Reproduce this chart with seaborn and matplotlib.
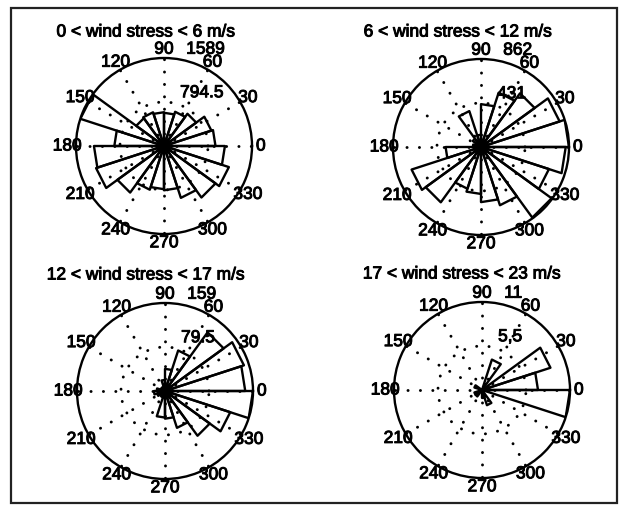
import numpy as np
import pandas as pd
import matplotlib
matplotlib.use("Agg")
import matplotlib.pyplot as plt
import matplotlib.patheffects as pe
import seaborn as sns
from matplotlib.patches import Rectangle

# ---------------- data ----------------
bin_width = 18                                   # degrees per rose bin
bin_centers = list(range(9, 360, 18))            # 9, 27, ..., 351
titles = ["0 < wind stress < 6 m/s", "6 < wind stress < 12 m/s",
          "12 < wind stress < 17 m/s", "17 < wind stress < 23 m/s"]
counts_0_6 = [930, 900, 720, 650, 600, 610, 640, 620, 1589, 897,
              1265, 1290, 1040, 830, 780, 800, 985, 1150, 1232, 1100]
counts_6_12 = [862, 810, 650, 560, 420, 120, 370, 100, 60, 80,
               347, 715, 670, 430, 460, 540, 600, 855, 700, 830]
counts_12_17 = [145, 150, 131, 77, 40, 20, 8, 8, 8, 15,
                20, 15, 10, 12, 48, 50, 70, 100, 124, 159]
counts_17_23 = [7, 9, 0, 4, 0, 0, 0, 0, 1, 0,
                0, 1, 1, 0, 0, 1, 2, 0, 0, 11]
r_max = [1589, 862, 159, 11]
r_max_labels = ["1589", "862", "159", "11"]
r_mid_labels = ["794.5", "431", "79.5", "5,5"]
angle_ticks = list(range(0, 360, 30))

all_counts = [counts_0_6, counts_6_12, counts_12_17, counts_17_23]

# ---------------- style ----------------
sns.set_theme(style="white")
plt.rcParams["font.family"] = ["Liberation Sans", "DejaVu Sans"]
plt.rcParams["lines.dash_capstyle"] = "round"
plt.rcParams["lines.solid_capstyle"] = "round"

W, H = 628, 511
fig = plt.figure(figsize=(W / 100, H / 100), dpi=100)
fig.patch.set_facecolor("white")

R = 88  # circle radius in pixels
centers = [(164, 146), (481, 147), (165, 391), (482, 390)]
title_pos = [(146, 32), (458, 32), (146, 275), (462, 274)]
FS = 12.5
stroke = [pe.withStroke(linewidth=0.7, foreground="black")]

for k in range(4):
    cx, cy = centers[k]
    ax = fig.add_axes([(cx - R) / W, (H - cy - R) / H, 2 * R / W, 2 * R / H],
                      projection="polar")
    ax.set_facecolor("none")
    rm = r_max[k]

    # grid like MATLAB polar
    ax.set_xticks(np.deg2rad(angle_ticks))
    ax.set_xticklabels([])
    ax.set_yticks([rm / 2])
    ax.set_yticklabels([])
    ax.grid(True, color="black", linestyle=(0, (0.05, 4.2)), linewidth=2.1)
    ax.spines["polar"].set_color("black")
    ax.spines["polar"].set_linewidth(1.7)
    ax.tick_params(length=0, pad=0)

    # rose wedges (straight chords, like MATLAB rose)
    rows = []
    for c, v in zip(bin_centers, all_counts[k]):
        t1 = np.deg2rad(c - bin_width / 2)
        t2 = np.deg2rad(c + bin_width / 2)
        rows += [(c, t1, 0.0, 0), (c, t1, v, 1), (c, t2, v, 2), (c, t2, 0.0, 3)]
    df = pd.DataFrame(rows, columns=["bin", "theta", "r", "order"])
    sns.lineplot(data=df, x="theta", y="r", units="bin", estimator=None,
                 sort=False, color="black", linewidth=1.7, ax=ax, legend=False)
    ax.set_xlabel("")
    ax.set_ylabel("")
    ax.set_ylim(0, rm)

    # angle labels at 1.1 rmax
    for a in angle_ticks:
        ax.text(np.deg2rad(a), 1.1 * rm, str(a), ha="center", va="center",
                fontsize=FS, color="black", clip_on=False, path_effects=stroke)
    # radial labels at 82 degrees
    t82 = np.deg2rad(82)
    ax.text(t82, 1.025 * rm, "  " + r_max_labels[k], ha="left", va="bottom",
            fontsize=FS, color="black", clip_on=False, path_effects=stroke)
    ax.text(t82, 0.525 * rm, "  " + r_mid_labels[k], ha="left", va="bottom",
            fontsize=FS, color="black", clip_on=False, path_effects=stroke)

    tx, ty = title_pos[k]
    fig.text(tx / W, 1 - ty / H, titles[k], ha="center", va="center",
             fontsize=FS, color="black", path_effects=stroke)

# outer frame
fig.patches.append(Rectangle((11 / W, 1 - 503 / H), (617 - 11) / W, (503 - 8) / H,
                             transform=fig.transFigure, fill=False,
                             edgecolor="#222222", linewidth=1.6))

fig.savefig("out.png", dpi=100, facecolor="white")
